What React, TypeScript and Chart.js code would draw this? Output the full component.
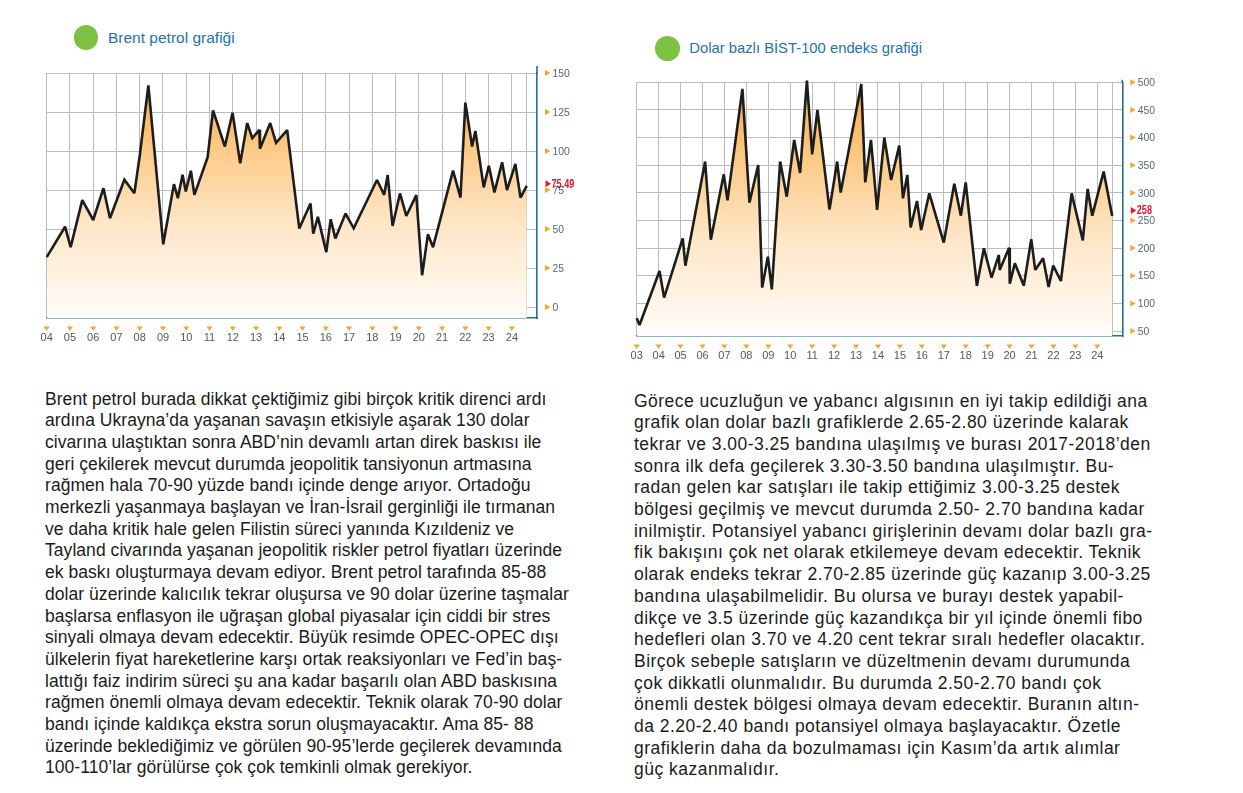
import React, { useEffect, useRef } from 'react';
import { Chart, registerables } from 'chart.js';

Chart.register(...registerables);

// ---------- DATA ----------
const brentDates = [
  2004.0, 2004.79, 2005.03, 2005.53, 2006.0, 2006.44, 2006.72, 2007.34, 2007.77, 2008.0,
  2008.37, 2009.01, 2009.47, 2009.64, 2009.84, 2009.98, 2010.2, 2010.35, 2010.92, 2011.15,
  2011.66, 2011.99, 2012.32, 2012.62, 2012.84, 2013.14, 2013.17, 2013.61, 2013.86, 2014.34,
  2014.86, 2015.34, 2015.46, 2015.66, 2016.02, 2016.21, 2016.41, 2016.85, 2017.2, 2018.2,
  2018.51, 2018.66, 2018.87, 2019.19, 2019.46, 2019.89, 2020.14, 2020.39, 2020.61, 2021.47,
  2021.79, 2022.0, 2022.29, 2022.43, 2022.79, 2023.01, 2023.25, 2023.58, 2023.79, 2024.15,
  2024.37, 2024.64,
];
const brentValues = [
  32, 51.5, 38.4, 68.5, 55.8, 76.2, 56.9, 81.6, 73.0, 97,
  142, 40.2, 78.8, 69.8, 84.8, 74.1, 87.4, 71.9, 96, 126,
  102.9, 124.5, 92.1, 117.9, 108.2, 113.6, 101.4, 117.9, 105.2, 113.4,
  50.3, 66.4, 47.0, 57.8, 35.2, 56.3, 44.0, 59.9, 50.5, 81.4,
  71.9, 84.6, 52.0, 72.8, 58.4, 71.7, 20.4, 46.6, 38.4, 87.4,
  70.2, 131, 102.9, 112.8, 76.7, 90.6, 73.5, 92.8, 75.0, 91.7,
  70.2, 77.6,
];
const brentXLabels = ['04','05','06','07','08','09','10','11','12','13','14','15','16','17','18','19','20','21','22','23','24'];
const brentYTicks = [0, 25, 50, 75, 100, 125, 150];
const brentLastLabel = '75.49';
const brentLastValue = 75.49;

const bistDates = [
  2003.0, 2003.13, 2004.04, 2004.25, 2005.1, 2005.22, 2006.12, 2006.38, 2006.97, 2007.14,
  2007.82, 2008.14, 2008.54, 2008.72, 2008.98, 2009.16, 2009.54, 2009.84, 2010.18, 2010.45,
  2010.76, 2011.0, 2011.24, 2011.79, 2012.14, 2012.3, 2013.24, 2013.42, 2013.68, 2013.96,
  2014.29, 2014.6, 2014.97, 2015.14, 2015.34, 2015.49, 2015.78, 2015.97, 2016.34, 2017.0,
  2017.48, 2017.78, 2018.0, 2018.51, 2018.83, 2019.18, 2019.51, 2019.55, 2019.98, 2020.01,
  2020.24, 2020.65, 2020.99, 2021.17, 2021.53, 2021.78, 2021.99, 2022.34, 2022.83, 2023.34,
  2023.56, 2023.77, 2024.29, 2024.68,
];
const bistValues = [
  73, 61, 158.6, 110.4, 217.7, 168.3, 356.6, 215.3, 333.5, 286.5,
  488, 282.3, 350.4, 128.5, 184.6, 125.5, 356.6, 293.1, 395.7, 336,
  503, 369.7, 450, 269.6, 356.6, 300.4, 497, 319, 395.7, 269,
  399.9, 323.3, 385.4, 290.1, 332.4, 237.6, 285.3, 232.8, 299.1, 209.9,
  316.6, 258.7, 319, 131.5, 199.6, 146.6, 187.6, 160.5, 200.8, 135.7,
  172.5, 132.1, 215.9, 160.5, 181.5, 129.7, 168.3, 140.5, 299.1, 214,
  307, 258.7, 338.4, 258,
];
const bistXLabels = ['03','04','05','06','07','08','09','10','11','12','13','14','15','16','17','18','19','20','21','22','23','24'];
const bistYTicks = [50, 100, 150, 200, 250, 300, 350, 400, 450, 500];
const bistLastLabel = '258';
const bistLastValue = 258;

const leftText = [
  'Brent petrol burada dikkat çektiğimiz gibi birçok kritik direnci ardı',
  'ardına Ukrayna’da yaşanan savaşın etkisiyle aşarak 130 dolar',
  'civarına ulaştıktan sonra ABD’nin devamlı artan direk baskısı ile',
  'geri çekilerek mevcut durumda jeopolitik tansiyonun artmasına',
  'rağmen hala 70-90 yüzde bandı içinde denge arıyor. Ortadoğu',
  'merkezli yaşanmaya başlayan ve İran-İsrail gerginliği ile tırmanan',
  've daha kritik hale gelen Filistin süreci yanında Kızıldeniz ve',
  'Tayland civarında yaşanan jeopolitik riskler petrol fiyatları üzerinde',
  'ek baskı oluşturmaya devam ediyor. Brent petrol tarafında 85-88',
  'dolar üzerinde kalıcılık tekrar oluşursa ve 90 dolar üzerine taşmalar',
  'başlarsa enflasyon ile uğraşan global piyasalar için ciddi bir stres',
  'sinyali olmaya devam edecektir. Büyük resimde OPEC-OPEC dışı',
  'ülkelerin fiyat hareketlerine karşı ortak reaksiyonları ve Fed’in baş-',
  'lattığı faiz indirim süreci şu ana kadar başarılı olan ABD baskısına',
  'rağmen önemli olmaya devam edecektir. Teknik olarak 70-90 dolar',
  'bandı içinde kaldıkça ekstra sorun oluşmayacaktır. Ama 85- 88',
  'üzerinde beklediğimiz ve görülen 90-95’lerde geçilerek devamında',
  '100-110’lar görülürse çok çok temkinli olmak gerekiyor.',
];
const rightText = [
  'Görece ucuzluğun ve yabancı algısının en iyi takip edildiği ana',
  'grafik olan dolar bazlı grafiklerde 2.65-2.80 üzerinde kalarak',
  'tekrar ve 3.00-3.25 bandına ulaşılmış ve burası 2017-2018’den',
  'sonra ilk defa geçilerek 3.30-3.50 bandına ulaşılmıştır. Bu-',
  'radan gelen kar satışları ile takip ettiğimiz 3.00-3.25 destek',
  'bölgesi geçilmiş ve mevcut durumda 2.50- 2.70 bandına kadar',
  'inilmiştir. Potansiyel yabancı girişlerinin devamı dolar bazlı gra-',
  'fik bakışını çok net olarak etkilemeye devam edecektir. Teknik',
  'olarak endeks tekrar 2.70-2.85 üzerinde güç kazanıp 3.00-3.25',
  'bandına ulaşabilmelidir. Bu olursa ve burayı destek yapabil-',
  'dikçe ve 3.5 üzerinde güç kazandıkça bir yıl içinde önemli fibo',
  'hedefleri olan 3.70 ve 4.20 cent tekrar sıralı hedefler olacaktır.',
  'Birçok sebeple satışların ve düzeltmenin devamı durumunda',
  'çok dikkatli olunmalıdır. Bu durumda 2.50-2.70 bandı çok',
  'önemli destek bölgesi olmaya devam edecektir. Buranın altın-',
  'da 2.20-2.40 bandı potansiyel olmaya başlayacaktır. Özetle',
  'grafiklerin daha da bozulmaması için Kasım’da artık alımlar',
  'güç kazanmalıdır.',
];

// ---------- HELPERS ----------
function drawScaled(ctx: CanvasRenderingContext2D, s: string, x: number, y: number, sx: number) {
  ctx.save();
  ctx.translate(x, y);
  ctx.scale(sx, 1);
  ctx.fillText(s, 0, 0);
  ctx.restore();
}

const decoPlugin = {
  id: 'deco',
  beforeDatasetsDraw(chart: any) {
    chart.ctx.miterLimit = 2.2;
  },
  afterDraw(chart: any, _args: any, opts: any) {
    const { ctx, chartArea } = chart;
    const x = chart.scales.x;
    const y = chart.scales.y;
    ctx.save();
    // extension of the right axis line above the plot
    ctx.strokeStyle = '#23708f';
    ctx.lineWidth = 1.6;
    ctx.beginPath();
    ctx.moveTo(chartArea.right, chartArea.top - opts.topExt);
    ctx.lineTo(chartArea.right, chartArea.top + 1);
    ctx.stroke();
    // x-axis triangles + labels
    opts.xLabels.forEach((lab: string) => {
      const px = x.getPixelForValue(2000 + parseInt(lab, 10));
      const t = chartArea.bottom + 8.5;
      ctx.fillStyle = '#f6a52e';
      ctx.beginPath();
      ctx.moveTo(px - 3, t);
      ctx.lineTo(px + 3, t);
      ctx.lineTo(px, t + 4.5);
      ctx.closePath();
      ctx.fill();
      ctx.fillStyle = '#4b5a6d';
      ctx.font = '11px "Liberation Sans", Arial, sans-serif';
      ctx.textAlign = 'center';
      ctx.textBaseline = 'middle';
      ctx.fillText(lab, px, chartArea.bottom + 19.5);
    });
    // y-axis triangles + labels
    opts.yTicks.forEach((v: number) => {
      const py = y.getPixelForValue(v);
      const l = chartArea.right + 8;
      ctx.fillStyle = '#f6a52e';
      ctx.beginPath();
      ctx.moveTo(l, py - 3);
      ctx.lineTo(l, py + 3);
      ctx.lineTo(l + 5.5, py);
      ctx.closePath();
      ctx.fill();
      ctx.fillStyle = '#56667a';
      ctx.font = '11.5px "Liberation Sans", Arial, sans-serif';
      ctx.textAlign = 'left';
      ctx.textBaseline = 'middle';
      drawScaled(ctx, String(v), chartArea.right + 15.5, py + 0.5, 0.9);
    });
    // red last-value label
    const ry = y.getPixelForValue(opts.lastValue) - 5.5;
    const rl = chartArea.right + 8.5;
    ctx.fillStyle = '#e3182d';
    ctx.beginPath();
    ctx.moveTo(rl, ry - 3.5);
    ctx.lineTo(rl, ry + 3.5);
    ctx.lineTo(rl + 5.5, ry);
    ctx.closePath();
    ctx.fill();
    ctx.font = 'bold 12px "Liberation Sans", Arial, sans-serif';
    ctx.textAlign = 'left';
    ctx.textBaseline = 'middle';
    drawScaled(ctx, opts.lastLabel, chartArea.right + 14.5, ry + 0.5, 0.76);
    ctx.restore();
  },
};

type ChartProps = {
  dates: number[];
  values: number[];
  xLabels: string[];
  yTicks: number[];
  xMin: number;
  xMax: number;
  yMin: number;
  yMax: number;
  lastLabel: string;
  lastValue: number;
  width: number;
  height: number;
  padLeft: number;
  padTop: number;
  axisW: number;
  axisH: number;
  left: number;
  top: number;
  topExt: number;
};

function LineChart(p: ChartProps) {
  const ref = useRef<HTMLCanvasElement | null>(null);
  useEffect(() => {
    if (!ref.current) return;
    const points = p.dates.map((d, i) => ({ x: d, y: p.values[i] }));
    const xTickVals = [...p.xLabels.map((l) => 2000 + parseInt(l, 10)), p.dates[p.dates.length - 1]];
    const chart = new Chart(ref.current, {
      type: 'line',
      data: {
        datasets: [
          {
            data: points,
            borderColor: '#1d1d1d',
            borderWidth: 2.6,
            borderJoinStyle: 'miter',
            pointRadius: 0,
            tension: 0,
            fill: 'start',
            clip: false as any,
            backgroundColor: (c: any) => {
              const { chart: ch } = c;
              const area = ch.chartArea;
              if (!area) return 'rgba(249,180,80,0.4)';
              const g = ch.ctx.createLinearGradient(0, area.top, 0, area.bottom);
              g.addColorStop(0, '#f8ab42');
              g.addColorStop(0.3, '#fcc984');
              g.addColorStop(0.6, '#fee5c4');
              g.addColorStop(1, '#fffdfa');
              return g;
            },
          },
        ],
      },
      options: {
        responsive: false,
        animation: false,
        devicePixelRatio: 1,
        layout: { padding: { left: p.padLeft, top: p.padTop, right: 0, bottom: 0 } },
        plugins: {
          legend: { display: false },
          tooltip: { enabled: false },
          deco: {
            xLabels: p.xLabels,
            yTicks: p.yTicks,
            lastLabel: p.lastLabel,
            lastValue: p.lastValue,
            topExt: p.topExt,
          },
        } as any,
        scales: {
          x: {
            type: 'linear',
            min: p.xMin,
            max: p.xMax,
            afterBuildTicks: (s: any) => {
              s.ticks = xTickVals.map((v) => ({ value: v }));
            },
            afterFit: (s: any) => {
              s.height = p.axisH;
            },
            ticks: { display: false },
            grid: { color: '#bcbcbc', lineWidth: 1, drawTicks: false },
            border: { display: true, color: '#23708f', width: 1.6 },
          },
          y: {
            type: 'linear',
            position: 'right',
            min: p.yMin,
            max: p.yMax,
            afterBuildTicks: (s: any) => {
              s.ticks = p.yTicks.map((v) => ({ value: v }));
            },
            afterFit: (s: any) => {
              s.width = p.axisW;
            },
            ticks: { display: false },
            grid: { color: '#bcbcbc', lineWidth: 1, drawTicks: false },
            border: { display: true, color: '#23708f', width: 1.6 },
          },
        },
      },
      plugins: [decoPlugin],
    } as any);
    return () => chart.destroy();
  }, []);
  return (
    <canvas
      ref={ref}
      width={p.width}
      height={p.height}
      style={{ position: 'absolute', left: p.left, top: p.top, width: p.width, height: p.height, display: 'block' }}
    />
  );
}

function Title({ cx, cy, text, size }: { cx: number; cy: number; text: string; size: number }) {
  const r = 12.3;
  return (
    <>
      <div
        style={{
          position: 'absolute',
          left: cx - r,
          top: cy - r,
          width: r * 2,
          height: r * 2,
          borderRadius: '50%',
          background: '#7dc243',
        }}
      />
      <div
        style={{
          position: 'absolute',
          left: cx + 22,
          top: cy - 10,
          height: 20,
          lineHeight: '20px',
          fontFamily: '"Liberation Sans", Arial, sans-serif',
          fontSize: size,
          color: '#2273b6',
          whiteSpace: 'nowrap',
        }}
      >
        {text}
      </div>
    </>
  );
}

function TextBlock({ left, top, lines, spacing }: { left: number; top: number; lines: string[]; spacing: number }) {
  return (
    <div
      style={{
        position: 'absolute',
        left,
        top,
        fontFamily: '"Liberation Sans", Arial, sans-serif',
        fontSize: 17.5,
        lineHeight: '21.7px',
        letterSpacing: spacing,
        color: '#1b1b1b',
        whiteSpace: 'nowrap',
      }}
    >
      {lines.map((l, i) => (
        <div key={i}>{l}</div>
      ))}
    </div>
  );
}

export default function App() {
  return (
    <div style={{ position: 'absolute', left: 0, top: 0, width: 1243, height: 793, background: '#fff', overflow: 'hidden' }}>
      <Title cx={86} cy={37.7} text="Brent petrol grafiği" size={15.5} />
      <Title cx={667.3} cy={48.3} text="Dolar bazlı BİST-100 endeks grafiği" size={14.8} />
      <LineChart
        dates={brentDates}
        values={brentValues}
        xLabels={brentXLabels}
        yTicks={brentYTicks}
        xMin={2004}
        xMax={2025.08}
        yMin={-7}
        yMax={150}
        lastLabel={brentLastLabel}
        lastValue={brentLastValue}
        width={600}
        height={305}
        left={0}
        top={50}
        padLeft={46.7}
        padTop={23}
        axisW={63}
        axisH={37}
        topExt={7}
      />
      <LineChart
        dates={bistDates}
        values={bistValues}
        xLabels={bistXLabels}
        yTicks={bistYTicks}
        xMin={2003}
        xMax={2025.14}
        yMin={41}
        yMax={500}
        lastLabel={bistLastLabel}
        lastValue={bistLastValue}
        width={600}
        height={310}
        left={600}
        top={60}
        padLeft={36.7}
        padTop={22.3}
        axisW={77.7}
        axisH={34}
        topExt={2.5}
      />
      <TextBlock left={45} top={388.5} lines={leftText} spacing={0.05} />
      <TextBlock left={634} top={390.5} lines={rightText} spacing={0.48} />
    </div>
  );
}
